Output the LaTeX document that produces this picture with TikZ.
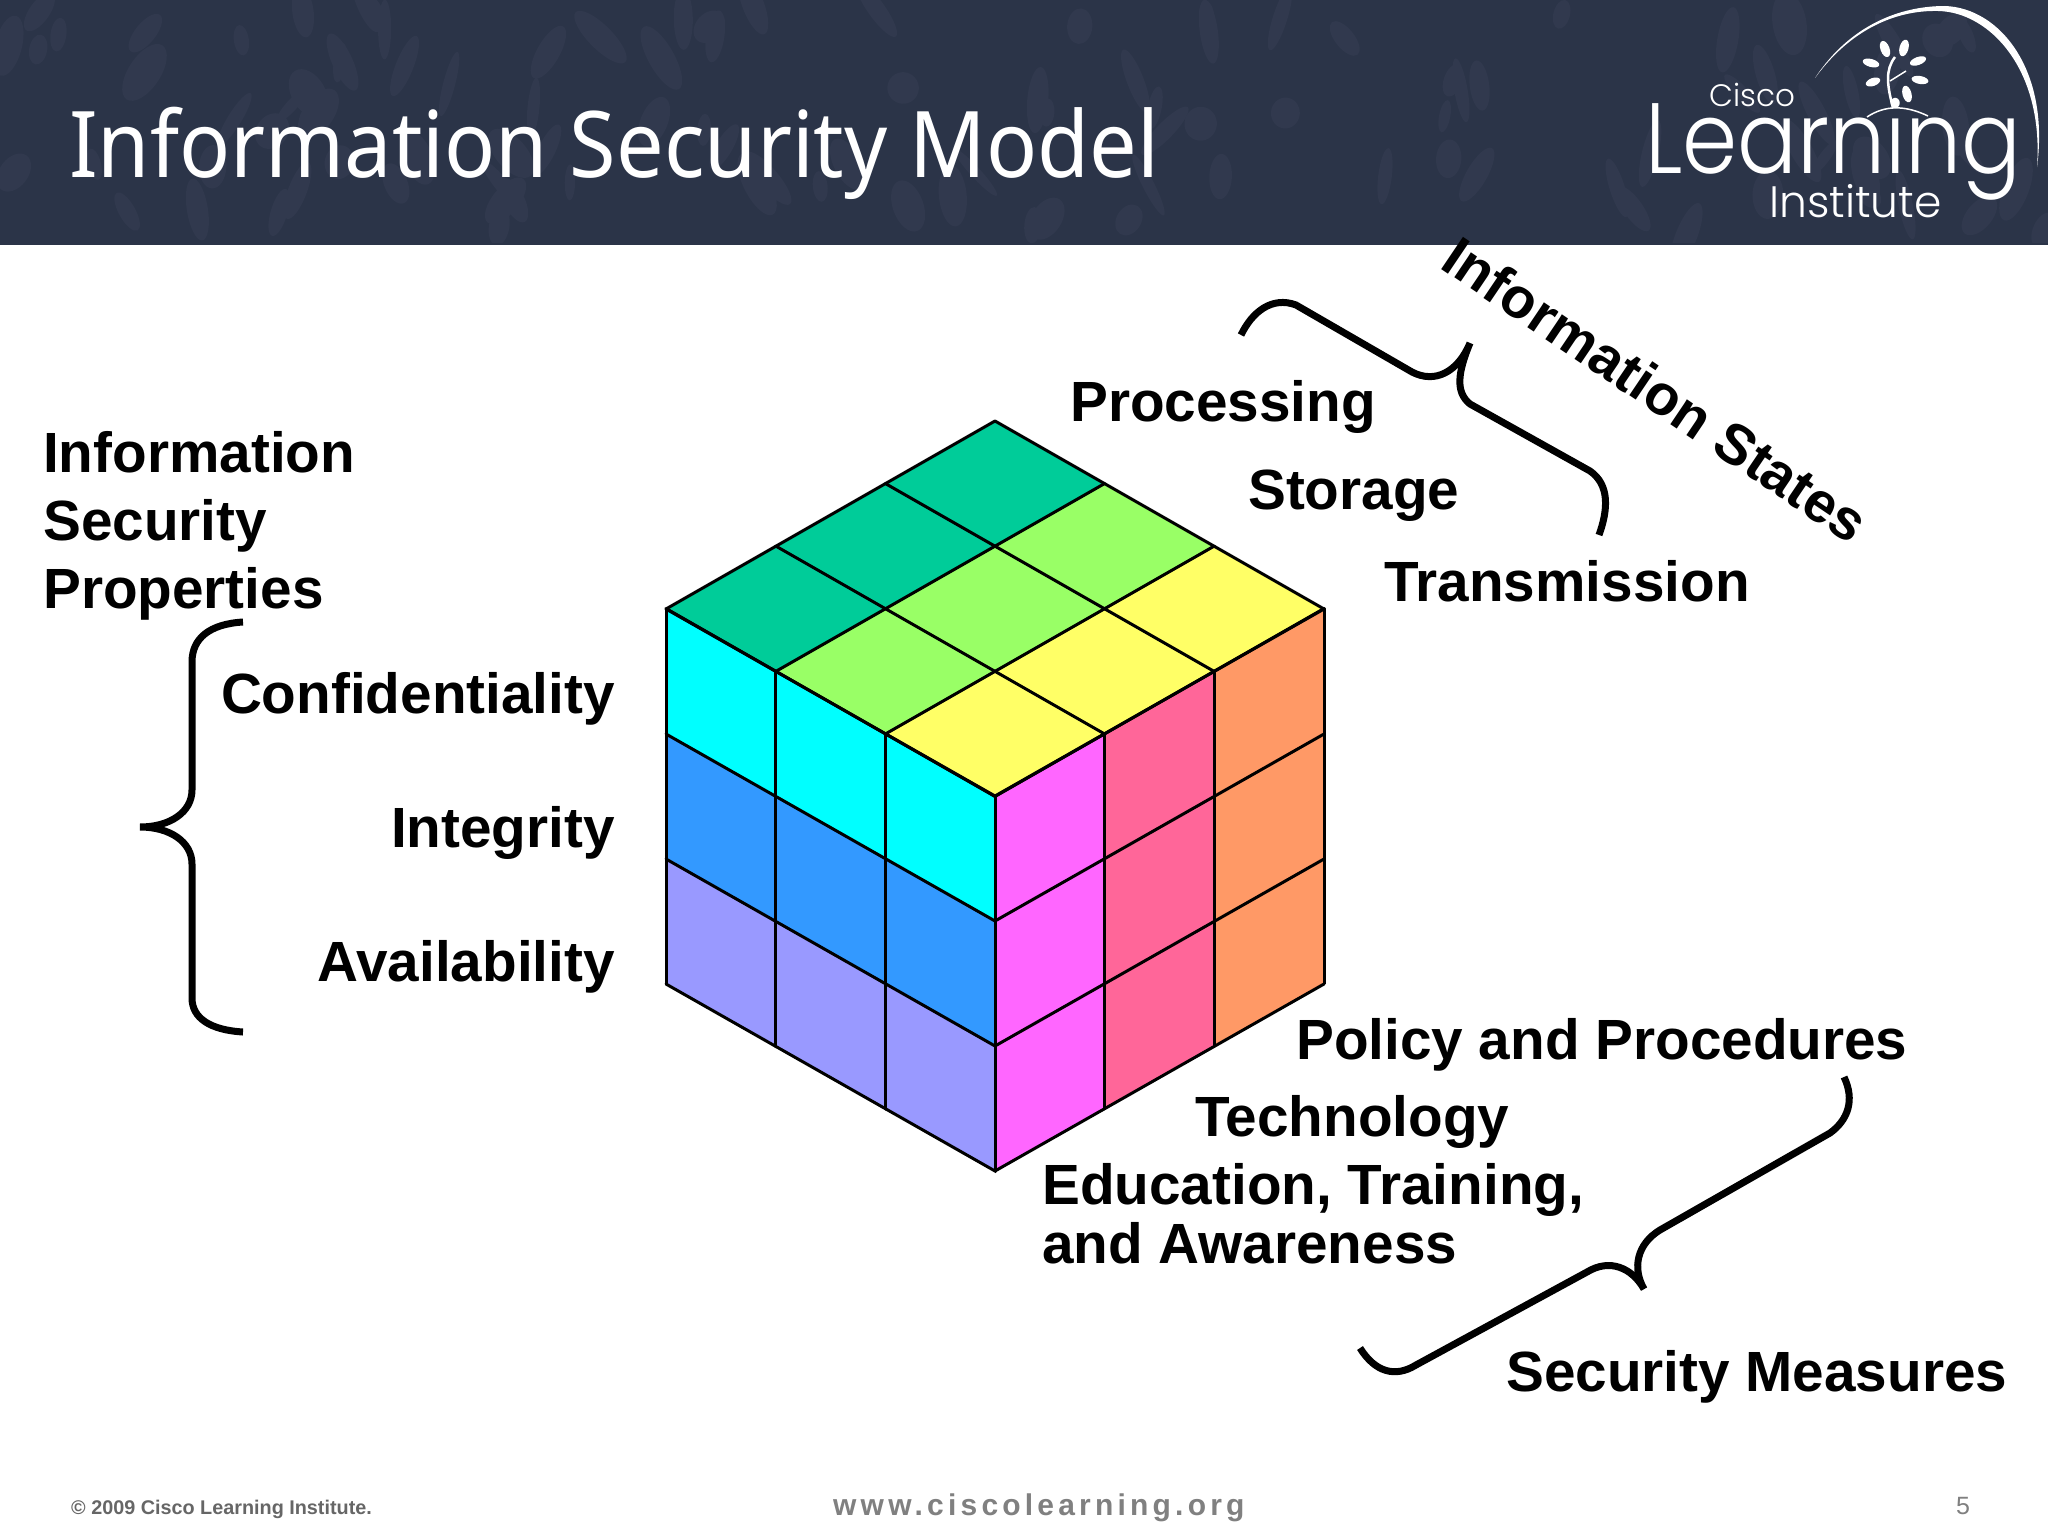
\documentclass[tikz,border=0pt]{standalone}
\usepackage{fontspec}
\setmainfont{Liberation Sans}
\newfontfamily\titlefont{Noto Sans}
\newfontfamily\logofont{Poppins Light}
\newfontfamily\webfont[LetterSpace=14]{Liberation Sans}
\definecolor{headerblue}{HTML}{2B3448}
\definecolor{headerleaf}{HTML}{31394E}
\definecolor{darkgreen}{HTML}{00CC99}
\definecolor{lightgreen}{HTML}{99FF66}
\definecolor{softyellow}{HTML}{FFFF66}
\definecolor{softcyan}{HTML}{00FFFF}
\definecolor{softblue}{HTML}{3399FF}
\definecolor{lavender}{HTML}{9999FF}
\definecolor{softmagenta}{HTML}{FF66FF}
\definecolor{softpink}{HTML}{FF6699}
\definecolor{softorange}{HTML}{FF9966}
\tikzset{
  bodytext/.style={inner sep=0pt,font=\fontsize{56.7}{68}\selectfont\bfseries},
  brace/.style={line width=7pt},
  logotext/.style={inner sep=0pt,text=white,anchor=base west},
  leaf/.style={fill=white,draw=none}
}
\begin{document}
\begin{tikzpicture}[x=1pt,y=-1pt]
        \useasboundingbox (0,0) rectangle (2048,1536);

        % Header
        \fill[headerblue] (0,0) rectangle (2048,245);
        \begin{scope}
            \clip (0,0) rectangle (2048,242);
            \pgfmathsetseed{7}
            \foreach \k in {1,...,110}
                \fill[headerleaf] (rnd*2048,rnd*240) ellipse [x radius=5+rnd*12,y radius=14+rnd*22,rotate=rnd*90-45];
        \end{scope}
        \node[inner sep=0pt,anchor=base west,text=white,xscale=0.92,font=\fontsize{92}{92}\titlefont] (title) at (69,177) {Information Security Model};

        % Logo
        \node[logotext,font=\fontsize{31}{31}\logofont] (cisco) at (1709,107) {Cisco};
        \node[logotext,xscale=0.886,font=\fontsize{100}{100}\logofont] (learning) at (1645,173) {Learning};
        \node[logotext,font=\fontsize{44}{44}\logofont] (institute) at (1769,217) {Institute};
        \fill[white] (1815,78) .. controls (1850,25) and (1900,6) .. (1945,6)
            .. controls (2000,8) and (2050,70) .. (2037,167)
            .. controls (2044,70) and (1990,12) .. (1938,11)
            .. controls (1895,10) and (1850,30) .. cycle;
        \draw[white,line width=2.5pt] (1893,108) .. controls (1887,85) and (1885,70) .. (1895,57);
        \draw[white,line width=1.5pt] (1890,81) -- (1906,71);
        \draw[white,line width=1.5pt] (1867,117) .. controls (1885,105) and (1905,105) .. (1928,116);
        \fill[leaf] (1885,49) ellipse [x radius=4.5pt,y radius=8.5pt,rotate=20];
        \fill[leaf] (1904,48) ellipse [x radius=4.5pt,y radius=8.5pt,rotate=-15];
        \fill[leaf] (1871,63) ellipse [x radius=8.5pt,y radius=4pt,rotate=-15];
        \fill[leaf] (1918,61) ellipse [x radius=8.5pt,y radius=4pt,rotate=20];
        \fill[leaf] (1873,82) ellipse [x radius=7.5pt,y radius=4pt,rotate=20];
        \fill[leaf] (1920,80) ellipse [x radius=8.5pt,y radius=4pt,rotate=-10];
        \fill[leaf] (1907,94) ellipse [x radius=4.5pt,y radius=8.5pt,rotate=15];

        % Top face of the cube
        \fill[darkgreen] (995,421) -- (666,609) -- (776,672) -- (1105,484) -- cycle;
        \fill[lightgreen] (1105,484) -- (776,672) -- (885,734) -- (1214,547) -- cycle;
        \fill[softyellow] (1214,547) -- (885,734) -- (995,796) -- (1324,609) -- cycle;
        % Left face
        \fill[softcyan] (666,609) -- (995,796) -- (995,921) -- (666,734) -- cycle;
        \fill[softblue] (666,734) -- (995,921) -- (995,1046) -- (666,859) -- cycle;
        \fill[lavender] (666,859) -- (995,1046) -- (995,1171) -- (666,984) -- cycle;
        % Right face
        \fill[softmagenta] (995,796) -- (1105,734) -- (1105,1109) -- (995,1171) -- cycle;
        \fill[softpink] (1105,734) -- (1214,672) -- (1214,1046) -- (1105,1109) -- cycle;
        \fill[softorange] (1214,672) -- (1324,609) -- (1324,984) -- (1214,1046) -- cycle;

        % Grid lines
        \foreach \k in {0,1,2,3} {
            \draw[line width=3pt,line cap=round] (995-109.67*\k,421+62.5*\k) -- (1324-109.67*\k,609+62.5*\k);
            \draw[line width=3pt,line cap=round] (995+109.67*\k,421+62.5*\k) -- (666+109.67*\k,609+62.5*\k);
            \draw[line width=3pt,line cap=round] (666+109.67*\k,609+62.5*\k) -- (666+109.67*\k,984+62.5*\k);
            \draw[line width=3pt,line cap=round] (995+109.67*\k,796-62.5*\k) -- (995+109.67*\k,1171-62.5*\k);
            \draw[line width=3pt,line cap=round] (666,609+125*\k) -- (995,796+125*\k);
            \draw[line width=3pt,line cap=round] (995,796+125*\k) -- (1324,609+125*\k);
        }

        % Labels
        \node[bodytext,anchor=base west,align=left] (properties) at (43,608) {Information\\Security\\Properties};
        \node[bodytext,anchor=base east] (confidentiality) at (615,713) {Confidentiality};
        \node[bodytext,anchor=base east] (integrity) at (615,847.5) {Integrity};
        \node[bodytext,anchor=base east] (availability) at (615,981) {Availability};
        \node[bodytext,anchor=base west] (processing) at (1070,421) {Processing};
        \node[bodytext,anchor=base west] (storage) at (1248,509) {Storage};
        \node[bodytext,anchor=base west] (transmission) at (1384,601) {Transmission};
        \node[bodytext,anchor=base west,rotate=-34] (states) at (1438,267) {Information States};
        \node[bodytext,anchor=base west] (policy) at (1296,1059) {Policy and Procedures};
        \node[bodytext,anchor=base west] (technology) at (1195,1136) {Technology};
        \node[bodytext,anchor=base west] (education) at (1042,1204) {Education, Training,};
        \node[bodytext,anchor=base west] (awareness) at (1042,1263) {and Awareness};
        \node[bodytext,anchor=base west] (measures) at (1506,1391) {Security Measures};

        % Braces
        \draw[brace] (243,622) .. controls (210,624) and (192,638) .. (192,662) -- (192,790)
            .. controls (192,812) and (170,827) .. (140,827)
            .. controls (170,827) and (192,842) .. (192,864) -- (192,998)
            .. controls (192,1018) and (210,1030) .. (243,1032);
        \draw[brace] (1241,335) .. controls (1252,312) and (1272,296) .. (1296,305) -- (1412,372)
            .. controls (1435,384) and (1458,372) .. (1470,343)
            .. controls (1458,372) and (1455,392) .. (1470,404) -- (1590,471)
            .. controls (1610,485) and (1608,510) .. (1599,535);
        \draw[brace] (1844,1077) .. controls (1855,1100) and (1848,1120) .. (1830,1133) -- (1660,1230)
            .. controls (1637,1244) and (1632,1268) .. (1644,1289)
            .. controls (1632,1268) and (1610,1258) .. (1587,1272) -- (1416,1365)
            .. controls (1395,1378) and (1375,1372) .. (1360,1348);

        % Footer
        \node[inner sep=0pt,anchor=base west,text=black!60,font=\fontsize{19.8}{20}\selectfont\bfseries] (copyright) at (71,1514) {© 2009 Cisco Learning Institute.};
        \node[inner sep=0pt,anchor=base west,text=black!50,font=\fontsize{30}{30}\webfont\bfseries] (website) at (833,1515) {www.ciscolearning.org};
        \node[inner sep=0pt,anchor=base,text=black!50,font=\fontsize{25}{25}\selectfont] (pagenum) at (1963,1514) {5};
    \end{tikzpicture}
\end{document}
